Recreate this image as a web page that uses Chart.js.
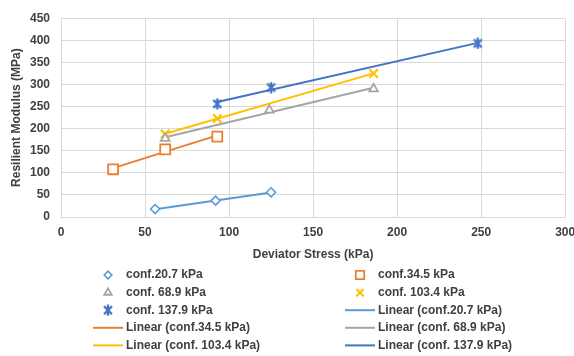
<!DOCTYPE html>
<html>
<head>
<meta charset="utf-8">
<script src="https://cdn.jsdelivr.net/npm/chart.js@4.4.1/dist/chart.umd.min.js"></script>
<style>
  html, body { margin: 0; padding: 0; background: #fff; }
  #wrap { width: 574px; height: 356px; position: relative; }
</style>
</head>
<body>
<div id="wrap"><canvas id="mrChart" width="574" height="356"></canvas></div>
<script>
// measured points: deviator stress (kPa) vs resilient modulus (MPa)
var names = ['conf.20.7 kPa', 'conf.34.5 kPa', 'conf. 68.9 kPa', 'conf. 103.4 kPa', 'conf. 137.9 kPa'];
var stress207 = [56, 92, 125];
var mr207 = [18, 37, 56];
var stress345 = [31, 62, 93];
var mr345 = [108, 153, 182];
var stress689 = [62, 124, 186];
var mr689 = [178, 242, 290];
var stress1034 = [62, 93, 186];
var mr1034 = [188, 223, 325];
var stress1379 = [93, 125, 248];
var mr1379 = [256, 293, 393];

// linear trendline ends (MPa at the first and last stress of each set)
var trend207 = [17.7, 55.7];
var trend345 = [110.7, 184.7];
var trend689 = [180.7, 292.7];
var trend1034 = [188.3, 325.1];
var trend1379 = [260.1, 394.1];

var xTicks = [0, 50, 100, 150, 200, 250, 300];
var yTicks = [0, 50, 100, 150, 200, 250, 300, 350, 400, 450];

var colors = ['#5B9BD5', '#ED7D31', '#A5A5A5', '#FFC000', '#4472C4'];

// excel-like star marker: an X with a vertical bar through it
function makeStar(color) {
    var c = document.createElement('canvas');
    c.width = 12; c.height = 12;
    var g = c.getContext('2d');
    g.strokeStyle = color;
    g.lineWidth = 2.4;
    g.beginPath();
    g.moveTo(2, 2); g.lineTo(10, 10);
    g.moveTo(10, 2); g.lineTo(2, 10);
    g.moveTo(6, 0.5); g.lineTo(6, 11.5);
    g.stroke();
    return c;
}

function toPoints(xs, ys) {
    return xs.map(function(x, i) { return { x: x, y: ys[i] }; });
}

function trendPoints(xs, ends) {
    return [
        { x: Math.min.apply(null, xs), y: ends[0] },
        { x: Math.max.apply(null, xs), y: ends[1] }
    ];
}

var sets = [
    { xs: stress207, ys: mr207, trend: trend207, style: 'rectRot', radius: 4.5, border: 1.6 },
    { xs: stress345, ys: mr345, trend: trend345, style: 'rect', radius: 7, border: 1.8 },
    { xs: stress689, ys: mr689, trend: trend689, style: 'triangle', radius: 5, border: 1.8 },
    { xs: stress1034, ys: mr1034, trend: trend1034, style: 'crossRot', radius: 6, border: 2.2 },
    { xs: stress1379, ys: mr1379, trend: trend1379, style: makeStar(colors[4]), radius: 6, border: 2 }
];

var datasets = [];
sets.forEach(function(s, i) {
    datasets.push({
        label: names[i],
        data: toPoints(s.xs, s.ys),
        showLine: false,
        pointStyle: s.style,
        pointRadius: s.radius,
        pointBorderWidth: s.border,
        pointBorderColor: colors[i],
        pointBackgroundColor: '#ffffff',
        borderColor: colors[i],
        backgroundColor: '#ffffff',
        order: 1
    });
});
sets.forEach(function(s, i) {
    datasets.push({
        label: 'Linear (' + names[i] + ')',
        data: trendPoints(s.xs, s.trend),
        showLine: true,
        borderColor: colors[i],
        borderWidth: 2,
        pointRadius: 0,
        order: 2
    });
});

var FONT = "'Liberation Sans', Arial, sans-serif";
var TEXT = '#404040';

// two-column legend under the axis title
var bottomLegend = {
    id: 'bottomLegend',
    afterDraw: function(chart) {
        var ctx = chart.ctx;
        var dsList = chart.data.datasets;
        var markerX = [108, 360], lineX = [93, 345], textX = [126, 378];
        ctx.save();
        ctx.font = 'bold 12px ' + FONT;
        ctx.textBaseline = 'middle';
        ctx.textAlign = 'left';
        dsList.forEach(function(ds, i) {
            var col = i % 2, row = Math.floor(i / 2);
            var y = 275 + row * 17.6;
            if (ds.showLine) {
                ctx.strokeStyle = ds.borderColor;
                ctx.lineWidth = 2;
                ctx.beginPath();
                ctx.moveTo(lineX[col], y);
                ctx.lineTo(lineX[col] + 30, y);
                ctx.stroke();
            } else {
                ctx.strokeStyle = ds.pointBorderColor;
                ctx.fillStyle = '#ffffff';
                ctx.lineWidth = ds.pointBorderWidth;
                Chart.helpers.drawPoint(ctx, {
                    pointStyle: ds.pointStyle,
                    radius: ds.pointRadius * 0.85,
                    rotation: 0,
                    borderWidth: ds.pointBorderWidth
                }, markerX[col], y);
            }
            ctx.fillStyle = TEXT;
            ctx.fillText(ds.label, textX[col], y);
        });
        ctx.restore();
    }
};

new Chart(document.getElementById('mrChart'), {
    type: 'scatter',
    data: { datasets: datasets },
    options: {
        responsive: false,
        animation: false,
        layout: { padding: { top: 10, right: 7, bottom: 93, left: 0 } },
        plugins: {
            legend: { display: false },
            tooltip: { enabled: false }
        },
        scales: {
            x: {
                type: 'linear',
                min: 0,
                max: 300,
                afterBuildTicks: function(scale) {
                    scale.ticks = xTicks.map(function(v) { return { value: v }; });
                },
                afterFit: function(scale) {
                    scale.height = 46;
                    scale.paddingRight = 0;
                    scale.paddingLeft = 0;
                },
                ticks: {
                    color: TEXT,
                    font: { family: FONT, size: 12, weight: 'bold' },
                    padding: 8,
                    maxRotation: 0
                },
                grid: { color: '#d9d9d9', lineWidth: 1, drawTicks: false },
                border: { color: '#d9d9d9' },
                title: {
                    display: true,
                    text: 'Deviator Stress (kPa)',
                    color: TEXT,
                    font: { family: FONT, size: 12, weight: 'bold' },
                    padding: { top: 0, bottom: 1 }
                }
            },
            y: {
                type: 'linear',
                min: 0,
                max: 450,
                afterBuildTicks: function(scale) {
                    scale.ticks = yTicks.map(function(v) { return { value: v }; });
                },
                afterFit: function(scale) {
                    scale.width = 61;
                },
                ticks: {
                    color: TEXT,
                    font: { family: FONT, size: 12, weight: 'bold' },
                    padding: 11
                },
                grid: { color: '#d9d9d9', lineWidth: 1, drawTicks: false },
                border: { display: false },
                title: {
                    display: true,
                    text: 'Resilient Modulus (MPa)',
                    color: TEXT,
                    font: { family: FONT, size: 12, weight: 'bold' },
                    padding: { top: 9, bottom: 0 }
                }
            }
        }
    },
    plugins: [bottomLegend]
});
</script>
</body>
</html>
